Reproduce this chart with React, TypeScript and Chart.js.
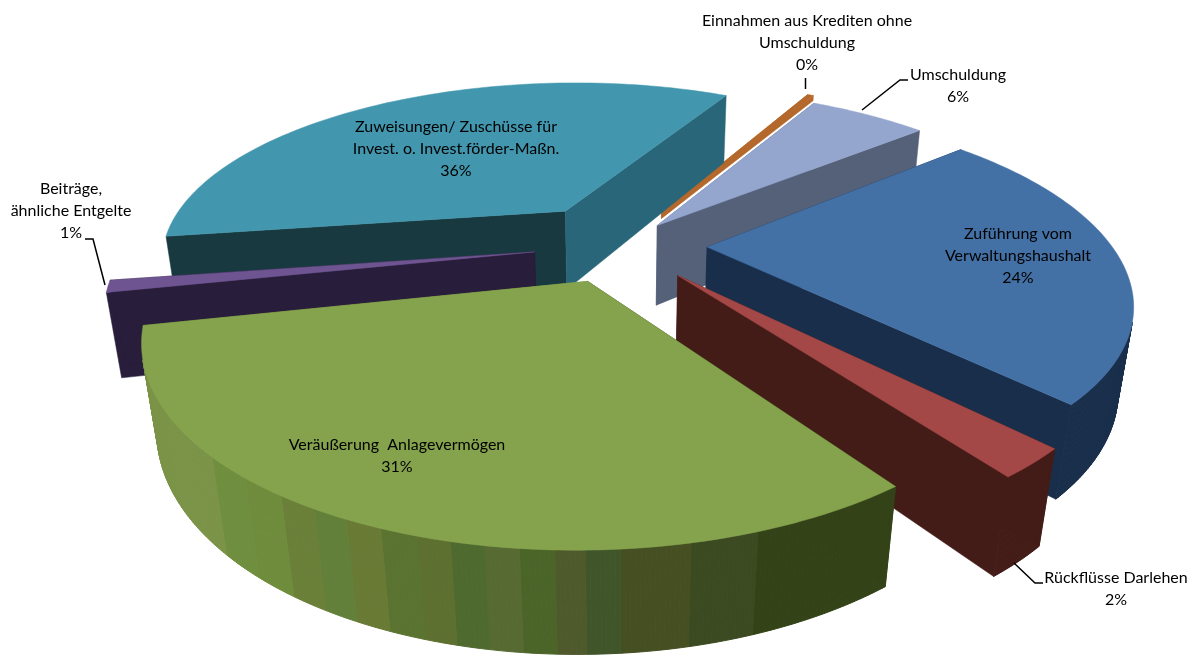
import React, { useEffect, useRef } from "react";
import { Chart, registerables } from "chart.js";

Chart.register(...registerables);

const categories = [
  "Zuführung vom Verwaltungshaushalt",
  "Rückflüsse Darlehen",
  "Veräußerung Anlagevermögen",
  "Beiträge, ähnliche Entgelte",
  "Zuweisungen/ Zuschüsse für Invest. o. Invest.förder-Maßn.",
  "Einnahmen aus Krediten ohne Umschuldung",
  "Umschuldung",
];
const values = [24, 2.3, 31.4, 1, 35.3, 0.3, 5.7];
const percentLabels = ["24%", "2%", "31%", "1%", "36%", "0%", "6%"];
const explode = [87, 87, 85, 86, 100, 90, 60];
const sliceRadius = [404, 405, 405, 405, 407, 415, 420];
const sliceDepth = [93, 93, 93, 93, 93, 7, 93];
const topColors = ["#4371A6", "#A44747", "#85A34C", "#6E5490", "#4297AE", "#B5682B", "#94A6CE"];
const rimColors = ["#182E4A", "#431C18", "#3A4A20", "#281D3A", "#17393F", "#6B3B18", "#556079"];
const wallStartColors = ["#182E4A", "#431C18", "#33411A", "#281D3A", "#17393F", "#B5682B", "#556079"];
const wallEndColors = ["#182E4A", "#431C18", "#7A9447", "#281D3A", "#2A6679", "#B5682B", "#556079"];
const greenRimBands = [
  "#7A9347", "#7A9347", "#6F8E3E", "#6F8C3C", "#6A7F38", "#62803A", "#697A35", "#5A7330", "#5D7030",
  "#4F6A2E", "#566A32", "#4B6428", "#4E5A2C", "#40562A", "#454F22", "#454F22", "#3B4A20", "#3B4A20",
  "#334217", "#334217", "#334217", "#334217",
];
const drawOrder = [5, 6, 4, 3, 0, 1, 2];
const labelLines = [
  ["Zuführung vom", "Verwaltungshaushalt", percentLabels[0]],
  ["Rückflüsse Darlehen", percentLabels[1]],
  ["Veräußerung  Anlagevermögen", percentLabels[2]],
  ["Beiträge,", "ähnliche Entgelte", percentLabels[3]],
  ["Zuweisungen/ Zuschüsse für", "Invest. o. Invest.förder-Maßn.", percentLabels[4]],
  ["Einnahmen aus Krediten ohne", "Umschuldung", percentLabels[5]],
  ["Umschuldung", percentLabels[6]],
];
const labelAnchors = [
  [1018, 234], [1116, 578], [397, 445], [71, 189], [456, 127], [807, 21], [958, 75],
];
const leaderLines = [
  [[1014, 563], [1035, 583], [1043, 583]],
  [[105, 285], [93, 239], [85, 239]],
  [[805.5, 78], [805.5, 89]],
  [[862, 110], [900, 80], [908, 80]],
];

const VIEW = { cx: 620, cy: 245, D: 1409, elev: 25.8 };
const FONT = "16px Lato";

const pie3d = {
  id: "pie3d",
  beforeDatasetsDraw(chart: any) {
    const ctx = chart.ctx as CanvasRenderingContext2D;
    const meta = chart.getDatasetMeta(0);
    const e = (VIEW.elev * Math.PI) / 180;
    const proj = (x: number, y: number, z: number): [number, number] => {
      const depth = VIEW.D - y * Math.cos(e) - z * Math.sin(e);
      const yc = -y * Math.sin(e) + z * Math.cos(e);
      return [VIEW.cx + (VIEW.D * x) / depth, VIEW.cy - (VIEW.D * yc) / depth];
    };
    const poly = (pts: [number, number][], color: string, lw = 0.5) => {
      ctx.beginPath();
      pts.forEach((p, i) => (i ? ctx.lineTo(p[0], p[1]) : ctx.moveTo(p[0], p[1])));
      ctx.closePath();
      ctx.fillStyle = color;
      ctx.strokeStyle = color;
      ctx.lineWidth = lw;
      ctx.fill();
      ctx.stroke();
    };
    for (const i of drawOrder) {
      const arc = meta.data[i];
      const { startAngle: a0, endAngle: a1 } = arc.getProps(["startAngle", "endAngle"], true);
      const mid = (a0 + a1) / 2;
      const off = arc.options.offset;
      const h = sliceDepth[i];
      const R = sliceRadius[i];
      const ox = Math.cos(mid) * off;
      const oy = Math.sin(mid) * off;
      const pt = (a: number, z: number) => proj(ox + Math.cos(a) * R, oy + Math.sin(a) * R, z);
      const apex = (z: number) => proj(ox, oy, z);
      poly([apex(0), pt(a0, 0), pt(a0, -h), apex(-h)], wallStartColors[i]);
      poly([apex(0), pt(a1, 0), pt(a1, -h), apex(-h)], wallEndColors[i]);
      const steps = Math.max(2, Math.ceil(((a1 - a0) * 360) / Math.PI));
      const faces: { b0: number; b1: number; x: number }[] = [];
      for (let s = 0; s < steps; s++) {
        const b0 = a0 + ((a1 - a0) * s) / steps;
        const b1 = a0 + ((a1 - a0) * (s + 1)) / steps;
        const bm = (b0 + b1) / 2;
        const px = ox + Math.cos(bm) * R;
        const py = oy + Math.sin(bm) * R;
        const facing = Math.cos(bm) * -px + Math.sin(bm) * (VIEW.D * Math.cos(e) - py) > 0;
        if (facing) faces.push({ b0, b1, x: pt(bm, 0)[0] });
      }
      const xs = faces.map((f) => f.x);
      const xMin = Math.min(...xs);
      const xMax = Math.max(...xs);
      for (const f of faces) {
        const band = Math.floor(((f.x - xMin) / Math.max(1, xMax - xMin)) * greenRimBands.length);
        const color = i === 2 ? greenRimBands[Math.min(greenRimBands.length - 1, band)] : rimColors[i];
        poly([pt(f.b0, 0), pt(f.b1, 0), pt(f.b1, -h), pt(f.b0, -h)], color, 1);
      }
      const top: [number, number][] = [apex(0)];
      for (let s = 0; s <= 96; s++) top.push(pt(a0 + ((a1 - a0) * s) / 96, 0));
      poly(top, topColors[i]);
    }
    return false;
  },
  afterDraw(chart: any) {
    const ctx = chart.ctx as CanvasRenderingContext2D;
    ctx.save();
    ctx.strokeStyle = "#000000";
    ctx.lineWidth = 1.5;
    for (const line of leaderLines) {
      ctx.beginPath();
      line.forEach((p, i) => (i ? ctx.lineTo(p[0], p[1]) : ctx.moveTo(p[0], p[1])));
      ctx.stroke();
    }
    ctx.fillStyle = "#000000";
    ctx.font = FONT;
    ctx.textAlign = "center";
    ctx.textBaseline = "middle";
    labelLines.forEach((lines, i) => {
      lines.forEach((t, k) => ctx.fillText(t, labelAnchors[i][0], labelAnchors[i][1] + k * 22));
    });
    ctx.restore();
  },
};

export default function App() {
  const ref = useRef<HTMLCanvasElement | null>(null);
  useEffect(() => {
    document.body.style.margin = "0";
    const chart = new Chart(ref.current as HTMLCanvasElement, {
      type: "pie",
      data: {
        labels: categories,
        datasets: [{ data: values, backgroundColor: topColors, offset: explode, borderWidth: 0 }],
      },
      options: {
        responsive: false,
        animation: false,
        rotation: 50,
        layout: { padding: 0 },
        plugins: { legend: { display: false }, tooltip: { enabled: false } },
      },
      plugins: [pie3d],
    } as any);
    return () => chart.destroy();
  }, []);
  return (
    <div style={{ width: 1189, height: 656, background: "#ffffff" }}>
      <canvas ref={ref} width={1189} height={656} style={{ display: "block" }} />
    </div>
  );
}
